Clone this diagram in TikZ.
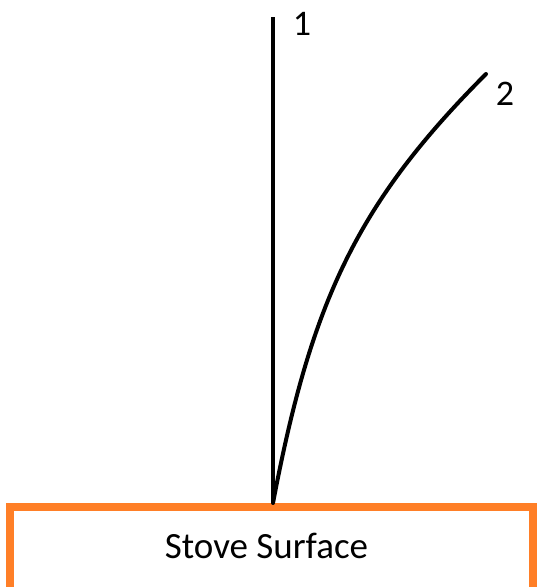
\documentclass[tikz,border=0pt]{standalone}
\usepackage{fontspec}
\setmainfont{Carlito}
\definecolor{stoveorange}{RGB}{255,127,39}
\begin{document}
\begin{tikzpicture}[x=1pt,y=-1pt,
  stem/.style={line width=4pt,black},
  lbl/.style={inner sep=0pt,anchor=base,font=\fontsize{36}{40}\selectfont}]
\useasboundingbox (0,0) rectangle (538,587);
\clip (0,0) rectangle (538,587);
\fill[white] (0,0) rectangle (538,587);
% stove surface
\draw[stoveorange,line width=8pt] (10,507) rectangle (533,605);
\node[lbl,font=\fontsize{37}{40}\selectfont] (stove) at (266.5,558.5) {Stove Surface};
\coordinate (base) at (273,503);
\coordinate (top1) at (273,17);
\coordinate (top2) at (486,74);
\draw[stem] (base) -- (top1);
\draw[stem,line cap=round] (base) .. controls (311,303) and (356,204) .. (top2);
\node[lbl] (l1) at (302,35) {1};
\node[lbl] (l2) at (505,105.5) {2};
\end{tikzpicture}
\end{document}
